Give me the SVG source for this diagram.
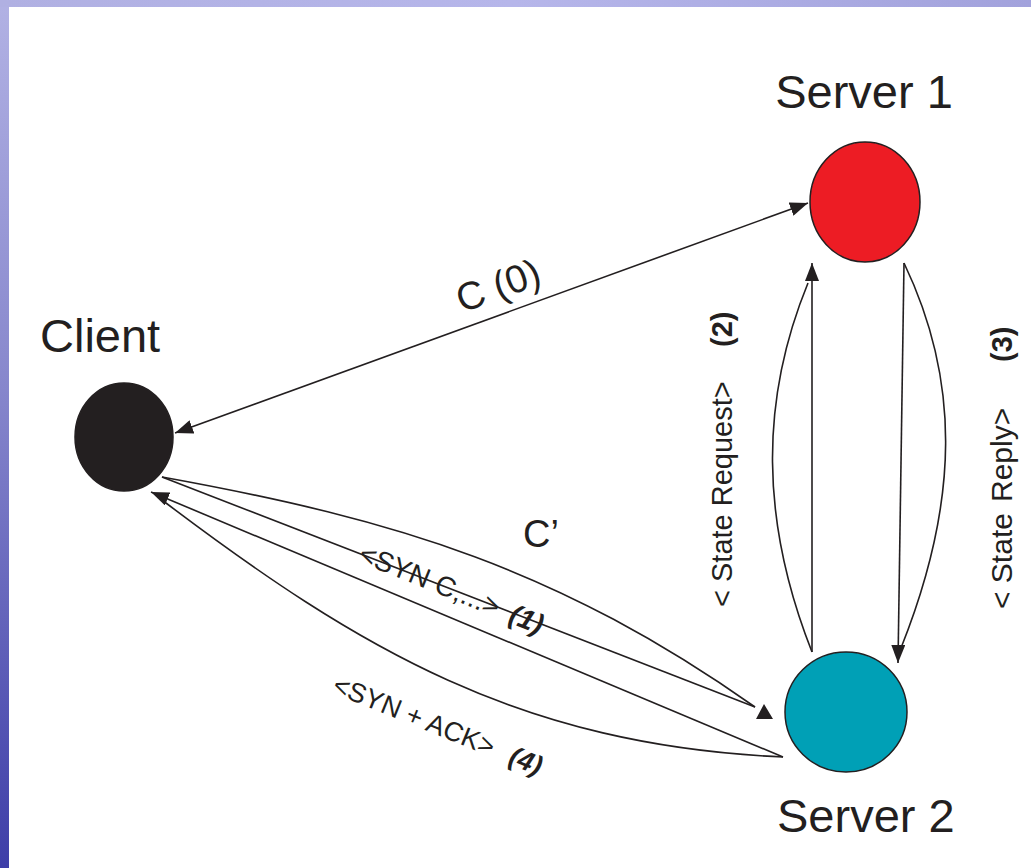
<svg xmlns="http://www.w3.org/2000/svg" width="1031" height="868" viewBox="0 0 1031 868">
  <defs>
    <linearGradient id="sideBand" x1="0" y1="0" x2="0" y2="1">
      <stop offset="0" stop-color="#b2b2e4"/>
      <stop offset="0.45" stop-color="#8686cc"/>
      <stop offset="1" stop-color="#3e3ea8"/>
    </linearGradient>
    <linearGradient id="topBand" x1="0" y1="0" x2="1" y2="0">
      <stop offset="0" stop-color="#b0b0e2"/>
      <stop offset="0.5" stop-color="#b6b6ea"/>
      <stop offset="1" stop-color="#a2a2dc"/>
    </linearGradient>
    <marker id="head" viewBox="0 0 18 14" markerWidth="18" markerHeight="14" refX="18" refY="7" markerUnits="userSpaceOnUse" orient="auto-start-reverse">
      <path d="M0,0 L18,7 L0,14 Z" fill="#231f20"/>
    </marker>
    <style>
      .link { fill: none; stroke: #231f20; stroke-width: 1.6; }
      .tip { fill: #231f20; }
      .node-label { font-family: "Liberation Sans", Arial, sans-serif; font-size: 47px; fill: #231f20; }
      .msg { font-family: "Liberation Sans", Arial, sans-serif; fill: #231f20; }
      .step { font-weight: bold; }
      .node { stroke: #231f20; stroke-width: 1.5; }
    </style>
  </defs>

  <!-- page background with banded border -->
  <rect x="0" y="0" width="1031" height="868" fill="url(#sideBand)"/>
  <rect x="0" y="0" width="1031" height="7" fill="url(#topBand)"/>
  <rect x="9" y="7" width="1022" height="861" fill="#ffffff"/>

  <!-- connectors -->
  <g id="connectors">
    <!-- C (0): client <-> server 1 -->
    <line class="link" x1="175" y1="433" x2="808" y2="203" marker-start="url(#head)" marker-end="url(#head)"/>

    <!-- State request: server 2 -> server 1 -->
    <line class="link" x1="812" y1="652" x2="812" y2="263" marker-end="url(#head)"/>
    <path class="link" d="M812,652 C760,520 760,400 808,283"/>

    <!-- State reply: server 1 -> server 2 -->
    <line class="link" x1="904" y1="263" x2="898" y2="663" marker-end="url(#head)"/>
    <path class="link" d="M904,263 C960,380 960,500 901,648"/>

    <!-- C' and SYN (1): client -> server 2 -->
    <path class="link" d="M162,477 C400,520 560,570 755,707"/>
    <line class="link" x1="162" y1="477" x2="755" y2="707"/>
    <polygon class="tip" points="764,704 773,719 756,719"/>

    <!-- SYN + ACK (4): server 2 -> client -->
    <line class="link" x1="783" y1="757" x2="151" y2="492" marker-end="url(#head)"/>
    <path class="link" d="M783,757 C520,745 360,650 162,500"/>

    <!-- message labels -->
    <text class="msg" font-size="39" transform="translate(462,313) rotate(-20)">C (0)</text>
    <text class="msg" font-size="38" x="523" y="547">C’</text>
    <text class="msg" font-size="28" transform="translate(357,561) rotate(22)">&lt;SYN C,...&gt;<tspan class="step" font-style="italic" x="162">(1)</tspan></text>
    <text class="msg" font-size="27" transform="translate(331,692) rotate(22)">&lt;SYN + ACK&gt;<tspan class="step" font-style="italic" x="190">(4)</tspan></text>
    <text class="msg" font-size="29" transform="translate(732,607) rotate(-90)">&lt; State Request&gt;<tspan class="step" x="260">(2)</tspan></text>
    <text class="msg" font-size="30" transform="translate(1012,609) rotate(-90)">&lt; State<tspan x="107">Reply&gt;</tspan><tspan class="step" font-size="29" x="247">(3)</tspan></text>
  </g>

  <!-- client -->
  <g id="client">
    <ellipse class="node" cx="124" cy="437" rx="49" ry="54" fill="#231f20"/>
    <text class="node-label" x="40" y="352" font-size="48">Client</text>
  </g>

  <!-- server 1 -->
  <g id="server1">
    <ellipse class="node" cx="865" cy="202" rx="55" ry="60" fill="#ed1c24"/>
    <text class="node-label" x="864" y="108" text-anchor="middle">Server 1</text>
  </g>

  <!-- server 2 -->
  <g id="server2">
    <ellipse class="node" cx="846" cy="712" rx="61" ry="60" fill="#00a0b6"/>
    <text class="node-label" x="777" y="832" font-size="48">Server 2</text>
  </g>
</svg>
